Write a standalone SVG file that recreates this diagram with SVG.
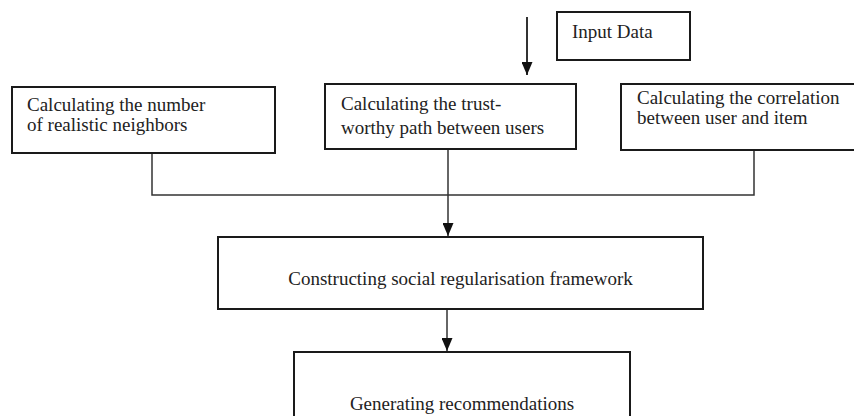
<svg xmlns="http://www.w3.org/2000/svg" width="854" height="416" viewBox="0 0 854 416">
<style>
.box{fill:#fff;stroke:#1a1a1a;stroke-width:2}
.t{font-family:"Liberation Serif","Times New Roman",serif;font-size:19px;fill:#222}
.c{fill:none;stroke:#333;stroke-width:1.5}
</style>
<defs>
<marker id="a" markerWidth="13" markerHeight="11" refX="13" refY="5.5" orient="auto" markerUnits="userSpaceOnUse">
<path d="M0,0 L13,5.5 L0,11 Z" fill="#111"/>
</marker>
</defs>
<g id="connectors">
<line class="c" x1="527" y1="17" x2="527" y2="75" marker-end="url(#a)" style="stroke-width:2"/>
<polyline class="c" points="152,153 152,195 754,195 754,150"/>
<line class="c" x1="448" y1="149" x2="448" y2="236" marker-end="url(#a)"/>
<line class="c" x1="447" y1="309" x2="447" y2="351" marker-end="url(#a)"/>
</g>
<g id="input">
<rect class="box" x="557" y="12" width="133" height="48"/>
<text class="t" x="572" y="38">Input Data</text>
</g>
<g id="neighbors">
<rect class="box" x="12" y="87" width="263" height="66"/>
<text class="t" x="27" y="111">Calculating the number</text>
<text class="t" x="27" y="131">of realistic neighbors</text>
</g>
<g id="trust">
<rect class="box" x="325" y="84" width="251" height="65"/>
<text class="t" x="341" y="110">Calculating the trust-</text>
<text class="t" x="341" y="134">worthy path between users</text>
</g>
<g id="correlation">
<rect class="box" x="621" y="84" width="240" height="66"/>
<text class="t" x="637" y="104">Calculating the correlation</text>
<text class="t" x="637" y="124">between user and item</text>
</g>
<g id="framework">
<rect class="box" x="218" y="237" width="485" height="72"/>
<text class="t" x="460.5" y="285" text-anchor="middle">Constructing social regularisation framework</text>
</g>
<g id="recommend">
<rect class="box" x="294" y="352" width="336" height="80"/>
<text class="t" x="462" y="410" text-anchor="middle">Generating recommendations</text>
</g>
</svg>
